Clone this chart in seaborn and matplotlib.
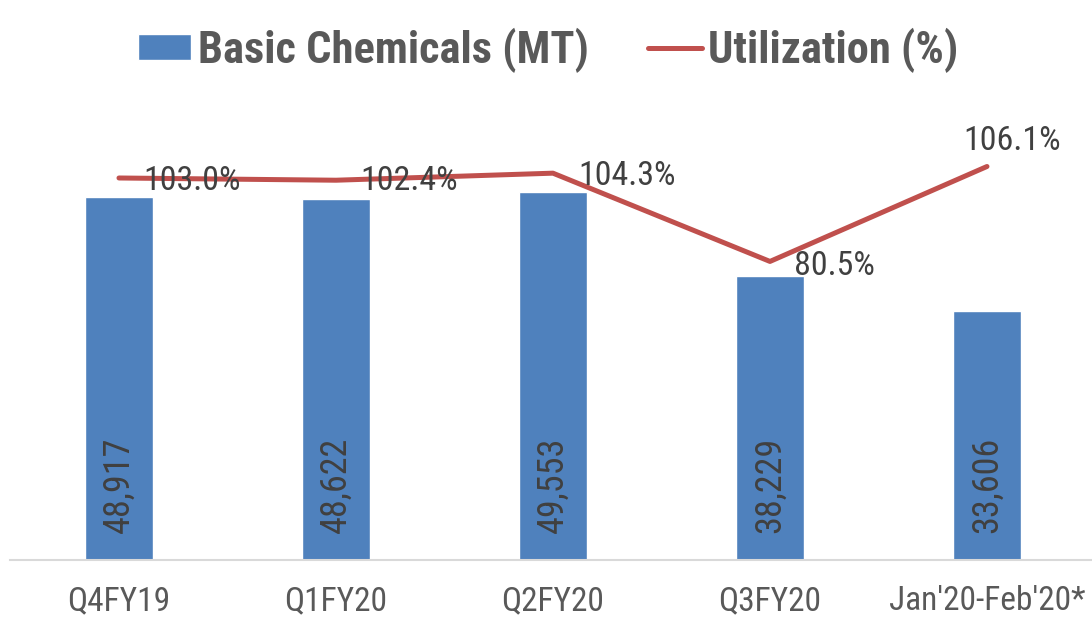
import matplotlib
matplotlib.use('Agg')
import pandas as pd
import seaborn as sns
import matplotlib.pyplot as plt

periods = ['Q4FY19', 'Q1FY20', 'Q2FY20', 'Q3FY20', "Jan'20-Feb'20*"]
volume_mt = [48917, 48622, 49553, 38229, 33606]
utilization = [103.0, 102.4, 104.3, 80.5, 106.1]

df = pd.DataFrame({'Period': periods, 'Volume': volume_mt, 'Util': utilization})

sns.set_theme(style='white')
plt.rcParams['font.family'] = ['Roboto Condensed', 'Liberation Sans Narrow', 'DejaVu Sans']
plt.rcParams['font.stretch'] = 'condensed'

bar_c = '#4F81BD'
line_c = '#C0504D'
grey = '#595959'

fig = plt.figure(figsize=(10.92, 6.18), dpi=100)
ax = fig.add_axes([0.0096, 0.0939, 0.9904, 0.7201])

sns.barplot(data=df, x='Period', y='Volume', color=bar_c, width=0.313,
            saturation=1, ax=ax, label='Basic Chemicals (MT)')
ax.set_ylim(0, 60000)
ax.set_xlim(-0.5, 4.484)

ax2 = ax.twinx()
sns.lineplot(data=df, x='Period', y='Util', color=line_c, lw=3.6,
             solid_capstyle='round', ax=ax2, label='Utilization (%)')
ax2.set_ylim(0, 120)

h1, l1 = ax.get_legend_handles_labels()
h2, l2 = ax2.get_legend_handles_labels()
for a in (ax, ax2):
    if a.get_legend() is not None:
        a.get_legend().remove()
    for s in ['top', 'left', 'right']:
        a.spines[s].set_visible(False)
    a.set_yticks([])
    a.set_ylabel('')
    a.set_xlabel('')
ax2.spines['bottom'].set_visible(False)
ax.spines['bottom'].set_color('#D9D9D9')
ax.spines['bottom'].set_linewidth(1.5)
ax.tick_params(axis='x', length=0, pad=18, labelsize=24, labelcolor=grey)

# bar values, rotated inside the bars
for i, v in enumerate(volume_mt):
    ax.annotate(f'{v:,}', (i, 0), xytext=(0, 27), textcoords='offset pixels',
                rotation=90, ha='center', va='bottom', fontsize=26,
                color='#404040')

# utilization labels
offs = [(24, -3, 'left'), (24, -1, 'left'), (25, -3, 'left'),
        (24, -5, 'left'), (25, 25, 'center')]
for i, (v, (dx, dy, ha)) in enumerate(zip(utilization, offs)):
    ax2.annotate(f'{v:.1f}%', (i, v), xytext=(dx, dy),
                 textcoords='offset pixels', ha=ha, va='center',
                 fontsize=24.5, color='#404040')

fig.legend(h1 + h2, l1 + l2, loc='center', bbox_to_anchor=(0.502, 0.919),
           ncol=2, frameon=False, handlelength=1.2, handleheight=0.55,
           handletextpad=0.15, columnspacing=1.35,
           prop={'weight': 'bold', 'size': 32}, labelcolor=grey)

plt.savefig('out.png', dpi=100)
